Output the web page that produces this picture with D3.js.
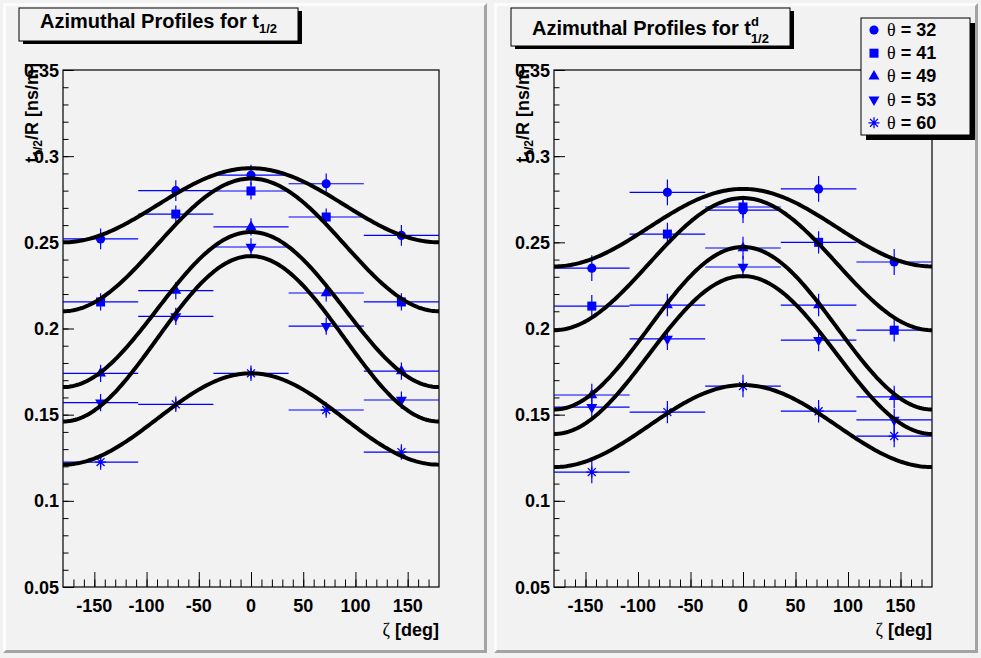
<!DOCTYPE html>
<html>
<head>
<meta charset="utf-8">
<script src="https://cdn.jsdelivr.net/npm/d3@7"></script>
<style>
  body { margin: 0; background: #f2f2f2; }
  text { font-family: "Liberation Sans", Arial, sans-serif; font-weight: bold; fill: #000; }
  .greek { font-family: "Liberation Serif", serif; font-weight: normal; }
</style>
</head>
<body>
<script>
// azimuthal bins (deg) and half widths
const zeta = [-144, -72, 0, 72, 144];
const zetaErr = [36, 36, 36, 36, 36];
const thetas = [32, 41, 49, 53, 60];

const xTicks = [-150, -100, -50, 0, 50, 100, 150];
const yTicks = [0.05, 0.1, 0.15, 0.2, 0.25, 0.3, 0.35];

// t_1/2 / R, one row per theta
const halfLeft = [
  [0.252, 0.280, 0.289, 0.284, 0.254],
  [0.2154, 0.2664, 0.2798, 0.2647, 0.2154],
  [0.174, 0.222, 0.259, 0.2206, 0.1753],
  [0.157, 0.207, 0.2473, 0.2014, 0.1585],
  [0.1225, 0.156, 0.174, 0.1527, 0.1283]
];
const halfLeftErr = [0.006, 0.005, 0.005, 0.005, 0.0045];
// fitted curve: value at zeta = +-180 and at zeta = 0
const fitLeftMin = [0.250, 0.210, 0.166, 0.146, 0.121];
const fitLeftMax = [0.293, 0.287, 0.256, 0.242, 0.174];

// t^d_1/2 / R
const halfRight = [
  [0.235, 0.279, 0.2687, 0.281, 0.2386],
  [0.213, 0.2548, 0.2705, 0.250, 0.199],
  [0.1614, 0.2136, 0.2467, 0.2136, 0.1603],
  [0.1544, 0.194, 0.2357, 0.1933, 0.147],
  [0.1167, 0.1515, 0.1666, 0.152, 0.1376]
];
const halfRightErr = [0.0075, 0.0065, 0.0065, 0.0065, 0.0065];
const fitRightMin = [0.236, 0.199, 0.153, 0.1388, 0.1196];
const fitRightMax = [0.281, 0.2757, 0.2473, 0.2304, 0.1672];

const blue = "#0000ff";
const W = 981, H = 658;

var svg = d3.select("body").append("svg").attr("width", W).attr("height", H);
svg.append("rect").attr("width", W).attr("height", H).attr("fill", "#f2f2f2");

var markerPath = function(i) {
  if (i == 0) return d3.symbol(d3.symbolCircle, 66)();
  if (i == 1) return d3.symbol(d3.symbolSquare, 81)();
  if (i == 2 || i == 3) return d3.symbol(d3.symbolTriangle, 52)();
  // ROOT star: 4 crossing strokes
  var r = 5.5, d = r * 0.72;
  return `M${-r},0L${r},0M0,${-r}L0,${r}M${-d},${-d}L${d},${d}M${-d},${d}L${d},${-d}`;
}

var drawMarker = function(sel, i) {
  var p = sel.append("path").attr("d", markerPath(i));
  if (i == 4) p.attr("fill", "none").attr("stroke", blue).attr("stroke-width", 1.3);
  else p.attr("fill", blue);
  if (i == 3) p.attr("transform", "rotate(180)");
  return p;
}

var pad = function(px, py, pw, ph) {
  var b = 3;
  var g = svg.append("g");
  g.append("rect").attr("x", px).attr("y", py).attr("width", pw).attr("height", ph).attr("fill", "#f2f2f2");
  g.append("path").attr("fill", "#fcfcfc")
    .attr("d", `M${px},${py + ph}L${px},${py}L${px + pw},${py}L${px + pw - b},${py + b}L${px + b},${py + b}L${px + b},${py + ph - b}Z`);
  g.append("path").attr("fill", "#a3a3a3")
    .attr("d", `M${px + pw},${py}L${px + pw},${py + ph}L${px},${py + ph}L${px + b},${py + ph - b}L${px + pw - b},${py + ph - b}L${px + pw - b},${py + b}Z`);
}

var panel = function(o) {
  pad(o.px, 3, 484, 650);

  var x = d3.scaleLinear().domain([-180, 180]).range([o.x0, o.x1]);
  var y = d3.scaleLinear().domain([0.05, 0.35]).range([587, 70]);

  var g = svg.append("g");

  // axes, ticks drawn inward like ROOT
  var yMinor = d3.range(5, 36).map(v => v / 100);
  g.append("g").attr("transform", `translate(${o.x0},0)`)
    .call(d3.axisRight(y).tickValues(yMinor).tickSize(5.5).tickFormat(""))
    .call(a => a.select(".domain").remove());
  g.append("g").attr("transform", `translate(${o.x0},0)`)
    .call(d3.axisRight(y).tickValues(yTicks).tickSize(11).tickFormat(""))
    .call(a => a.select(".domain").remove());
  g.selectAll(".tick line").attr("stroke", "#000");

  var xMinor = d3.range(-170, 180, 10);
  var gx = g.append("g");
  gx.append("g").attr("transform", "translate(0,587)")
    .call(d3.axisTop(x).tickValues(xMinor).tickSize(7.5).tickFormat(""))
    .call(a => a.select(".domain").remove());
  gx.append("g").attr("transform", "translate(0,587)")
    .call(d3.axisTop(x).tickValues(xTicks).tickSize(15).tickFormat(""))
    .call(a => a.select(".domain").remove());
  gx.selectAll(".tick line").attr("stroke", "#000");

  g.append("rect").attr("x", x(-180)).attr("y", y(0.35))
    .attr("width", x(180) - x(-180)).attr("height", y(0.05) - y(0.35))
    .attr("fill", "none").attr("stroke", "#000").attr("stroke-width", 1.2);

  // tick labels
  g.selectAll(".ylab").data(yTicks).enter().append("text").attr("class", "ylab")
    .attr("x", o.x0 - 4).attr("y", d => y(d) + 6.5)
    .attr("text-anchor", "end").attr("font-size", 18)
    .text(d => +d.toFixed(2));
  g.selectAll(".xlab").data(xTicks).enter().append("text").attr("class", "xlab")
    .attr("x", d => x(d)).attr("y", 612)
    .attr("text-anchor", "middle").attr("font-size", 18)
    .text(d => d);

  // axis titles
  var xt = g.append("text").attr("x", o.x1).attr("y", 636).attr("text-anchor", "end").attr("font-size", 18);
  xt.append("tspan").attr("class", "greek").text("ζ");
  xt.append("tspan").text(" [deg]");

  var yt = g.append("text").attr("transform", `translate(${o.px + 35},63) rotate(-90)`)
    .attr("text-anchor", "end").attr("font-size", 18);
  yt.append("tspan").text("t");
  yt.append("tspan").attr("font-size", 12).attr("dy", 4).text("1/2");
  yt.append("tspan").attr("dy", -4).text("/R [ns/m]");

  // title pave
  var tb = o.title;
  g.append("rect").attr("x", tb.x + 4).attr("y", tb.y + 3).attr("width", tb.w).attr("height", tb.h).attr("fill", "#000");
  g.append("rect").attr("x", tb.x).attr("y", tb.y).attr("width", tb.w).attr("height", tb.h)
    .attr("fill", "#f2f2f2").attr("stroke", "#000").attr("stroke-width", 1);
  var tt = g.append("text").attr("y", tb.base).attr("font-size", 20);
  tt.append("tspan").text("Azimuthal Profiles for t");
  if (tb.sup) {
    tt.append("tspan").attr("font-size", 13).attr("dy", -9).text(tb.sup);
    tt.append("tspan").attr("font-size", 13).attr("dx", -8).attr("dy", 17).text("1/2");
  } else {
    tt.append("tspan").attr("font-size", 13).attr("dy", 5).text("1/2");
  }
  var tw = tt.node().getBBox().width;
  tt.attr("x", tb.x + (tb.w - tw) / 2);

  // data: error bars, markers, then fitted curves on top
  var clipId = "clip" + o.px;
  svg.append("clipPath").attr("id", clipId).append("rect")
    .attr("x", o.x0).attr("y", 70).attr("width", o.x1 - o.x0).attr("height", 517);
  var plot = g.append("g").attr("clip-path", `url(#${clipId})`);

  o.vals.forEach((row, i) => {
    var s = plot.append("g");
    row.forEach((v, j) => {
      s.append("line").attr("x1", x(zeta[j] - zetaErr[j])).attr("x2", x(zeta[j] + zetaErr[j]))
        .attr("y1", y(v)).attr("y2", y(v)).attr("stroke", blue).attr("stroke-width", 1.2);
      s.append("line").attr("x1", x(zeta[j])).attr("x2", x(zeta[j]))
        .attr("y1", y(v - o.err[i])).attr("y2", y(v + o.err[i])).attr("stroke", blue).attr("stroke-width", 1.2);
      var m = s.append("g").attr("transform", `translate(${x(zeta[j])},${y(v)})`);
      drawMarker(m, i);
    });
  });

  var line = d3.line().x(d => x(d[0])).y(d => y(d[1]));
  var zs = d3.range(-180, 181, 2);
  o.fitMin.forEach((lo, i) => {
    var hi = o.fitMax[i];
    var pts = zs.map(z => [z, lo + (hi - lo) * (1 + Math.cos(z * Math.PI / 180)) / 2]);
    plot.append("path").attr("d", line(pts)).attr("fill", "none")
      .attr("stroke", "#000").attr("stroke-width", 4).attr("stroke-linejoin", "round");
  });
}

panel({
  px: 3, x0: 63, x1: 439,
  vals: halfLeft, err: halfLeftErr, fitMin: fitLeftMin, fitMax: fitLeftMax,
  title: { x: 19, y: 8, w: 279, h: 33, base: 28 }
});
panel({
  px: 494, x0: 554, x1: 932,
  vals: halfRight, err: halfRightErr, fitMin: fitRightMin, fitMax: fitRightMax,
  title: { x: 511, y: 8, w: 279, h: 38, base: 35, sup: "d" }
});

// legend
var lg = svg.append("g");
lg.append("rect").attr("x", 866).attr("y", 23).attr("width", 109).attr("height", 117).attr("fill", "#000");
lg.append("rect").attr("x", 861).attr("y", 18).attr("width", 109).attr("height", 117)
  .attr("fill", "#f2f2f2").attr("stroke", "#000").attr("stroke-width", 1);
thetas.forEach((t, i) => {
  var yy = 30 + i * 23.2;
  var m = lg.append("g").attr("transform", `translate(874,${yy})`);
  drawMarker(m, i);
  var tx = lg.append("text").attr("x", 887).attr("y", yy + 6).attr("font-size", 18);
  tx.append("tspan").attr("class", "greek").text("θ");
  tx.append("tspan").text(" = " + t);
});
</script>
</body>
</html>
